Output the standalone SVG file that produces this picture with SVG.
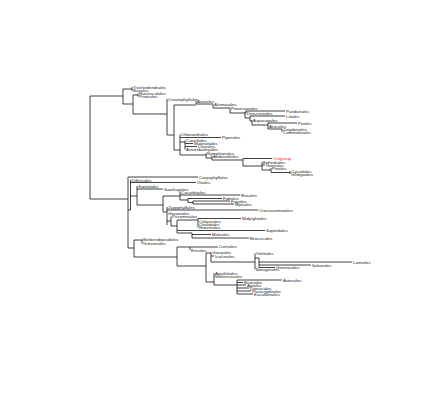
<svg xmlns="http://www.w3.org/2000/svg" width="423" height="401" viewBox="0 0 423 401">
<style>
.e{fill:none;stroke:#111;stroke-width:0.8}
text{font-family:"Liberation Sans",Arial,sans-serif;font-size:4.4px;fill:#222}
.og{fill:#ff2020}
</style>
<rect width="423" height="401" fill="#fff"/>
<g id="edges">
<path class="e" d="M90,96V199M90,96H123M90,199H128
M123,89V104M123,89H132M132,87V91M123,104H133M133,95V114M133,95H138M138,93.5V96.5M133,114H167
M167,99V135M167,135H174M174,105V150M174,105H196M196,101V104M196,104H213M213,104.5V108M213,108H230M230,108V113M230,113H245
M245,112V118M245,112H246M246,111V113.5M246,111H285M245,118H250M250,116V121M250,116H285M250,121H252M252,120V125M252,125H268M268,123V129M268,123H297M268,129H282M282,129V132
M174,150H180M180,134.5V155M180,137.5H221M180,142H185M185,140.5V149.5M185,143.5H193M185,146.5H197M180,155H206M206,153V158M206,158H212M212,156V160M212,160H243
M243,158.5V166M243,158.5H272M243,166H262M262,162V170M262,165H265M262,170H271M271,168V172.5M271,172.5H290M290,171V174
M128,177V248M128,177H198M128,210H130.5M130.5,180V210M130.5,182.5H196M130.5,196H137M137,186V205M137,189H163M137,205H163
M163,196V212M163,196H180M180,192V200M180,195H240M180,200H188M188,198.5V202.5M188,198.5H222M188,202.5H193M193,201V204M193,201H230M193,204H234
M163,212H167M167,207V225M167,210H258M167,221H171M171,216.5V226M171,226H177M177,220V233M177,220H198M198,218.5V227.5M198,218.5H241M177,230.5H265M177,233H192M192,233V238M192,234.5H211M192,238H249
M128,248H134M134,240V257M134,240H142M142,239.5V243.5M134,257H177M177,247V266M177,247H190M190,247V250M190,247H218M177,266H206
M206,253V282M206,253H211M211,252.5V262M211,256H214M211,262H255M255,253.5V269.5M255,258H259M259,258V267.5M259,262H352M259,265H311M259,267.5H275
M206,282H214M214,273V285M214,285H237M237,280V294M237,280H282M237,282.5H243M237,285H246M237,288H249M237,291H251M237,294H253"/>
</g>
<g id="n1"><text x="133" y="88.5">Trochodendrales</text></g>
<g id="n2"><text x="133" y="91.5">Buxales</text></g>
<g id="n3"><text x="139" y="95">Ranunculales</text></g>
<g id="n4"><text x="139" y="98">Proteales</text></g>
<g id="n5"><text x="168" y="100.5">Ceratophyllales</text></g>
<g id="n6"><text x="197" y="102.5">Acorales</text></g>
<g id="n7"><text x="214" y="106">Alismatales</text></g>
<g id="n8"><text x="231" y="109.5">Petrosaviales</text></g>
<g id="n9"><text x="286" y="112.5">Pandanales</text></g>
<g id="n10"><text x="247" y="115">Dioscoreales</text></g>
<g id="n11"><text x="286" y="117.5">Liliales</text></g>
<g id="n12"><text x="253" y="121.5">Asparagales</text></g>
<g id="n13"><text x="298" y="124.5">Poales</text></g>
<g id="n14"><text x="269" y="127.5">Arecales</text></g>
<g id="n15"><text x="283" y="130.5">Zingiberales</text></g>
<g id="n16"><text x="283" y="133.5">Commelinales</text></g>
<g id="n17"><text x="181" y="136">Chloranthales</text></g>
<g id="n18"><text x="222" y="139">Piperales</text></g>
<g id="n19"><text x="186" y="142">Canellales</text></g>
<g id="n20"><text x="194" y="145">Magnoliales</text></g>
<g id="n21"><text x="198" y="148">Laurales</text></g>
<g id="n22"><text x="186" y="151">Austrobaileyales</text></g>
<g id="n23"><text x="207" y="154.5">Nymphaeales</text></g>
<g id="n24"><text x="213" y="157.5">Amborellales</text></g>
<g id="n25"><text class="og" x="273" y="160">Outgroup</text></g>
<g id="n26"><text x="263" y="163.5">Ephedrales</text></g>
<g id="n27"><text x="266" y="166.5">Gnetales</text></g>
<g id="n28"><text x="272" y="169.5">Pinales</text></g>
<g id="n29"><text x="291" y="172.5">Cycadales</text></g>
<g id="n30"><text x="291" y="175.5">Ginkgoales</text></g>
<g id="n31"><text x="199" y="178.5">Caryophyllales</text></g>
<g id="n32"><text x="131.5" y="181.5">Dilleniales</text></g>
<g id="n33"><text x="197" y="184">Vitales</text></g>
<g id="n34"><text x="138" y="187.5">Santalales</text></g>
<g id="n35"><text x="164" y="190.5">Saxifragales</text></g>
<g id="n36"><text x="181" y="193.5">Cucurbitales</text></g>
<g id="n37"><text x="241" y="196.5">Rosales</text></g>
<g id="n38"><text x="223" y="200">Fabales</text></g>
<g id="n39"><text x="231" y="202.5">Fagales</text></g>
<g id="n40"><text x="235" y="205.5">Myrtales</text></g>
<g id="n41"><text x="168" y="208.5">Zygophyllales</text></g>
<g id="n42"><text x="259" y="211.5">Crossosomatales</text></g>
<g id="n43"><text x="168" y="215">Geraniales</text></g>
<g id="n44"><text x="172" y="218">Picramniales</text></g>
<g id="n45"><text x="242" y="220">Malpighiales</text></g>
<g id="n46"><text x="199" y="223">Celastrales</text></g>
<g id="n47"><text x="199" y="226">Oxalidales</text></g>
<g id="n48"><text x="199" y="229">Huerteales</text></g>
<g id="n49"><text x="266" y="232">Sapindales</text></g>
<g id="n50"><text x="212" y="236">Malvales</text></g>
<g id="n51"><text x="250" y="239.5">Brassicales</text></g>
<g id="n52"><text x="143" y="241">Berberidopsidales</text></g>
<g id="n53"><text x="143" y="245">Gunnerales</text></g>
<g id="n54"><text x="219" y="248">Cornales</text></g>
<g id="n55"><text x="191" y="251.5">Ericales</text></g>
<g id="n56"><text x="212" y="254">Garryales</text></g>
<g id="n57"><text x="215" y="257.5">Icacinales</text></g>
<g id="n58"><text x="256" y="255">Vahliales</text></g>
<g id="n59"><text x="353" y="263.5">Lamiales</text></g>
<g id="n60"><text x="312" y="266.5">Solanales</text></g>
<g id="n61"><text x="276" y="269">Gentianales</text></g>
<g id="n62"><text x="256" y="271">Boraginales</text></g>
<g id="n63"><text x="215" y="274.5">Aquifoliales</text></g>
<g id="n64"><text x="215" y="278">Metteniusales</text></g>
<g id="n65"><text x="283" y="281.5">Asterales</text></g>
<g id="n66"><text x="244" y="284">Bruniales</text></g>
<g id="n67"><text x="247" y="286.5">Apiales</text></g>
<g id="n68"><text x="250" y="289.5">Dipsacales</text></g>
<g id="n69"><text x="252" y="292.5">Paracryphiales</text></g>
<g id="n70"><text x="254" y="295.5">Escalloniales</text></g>
</svg>
